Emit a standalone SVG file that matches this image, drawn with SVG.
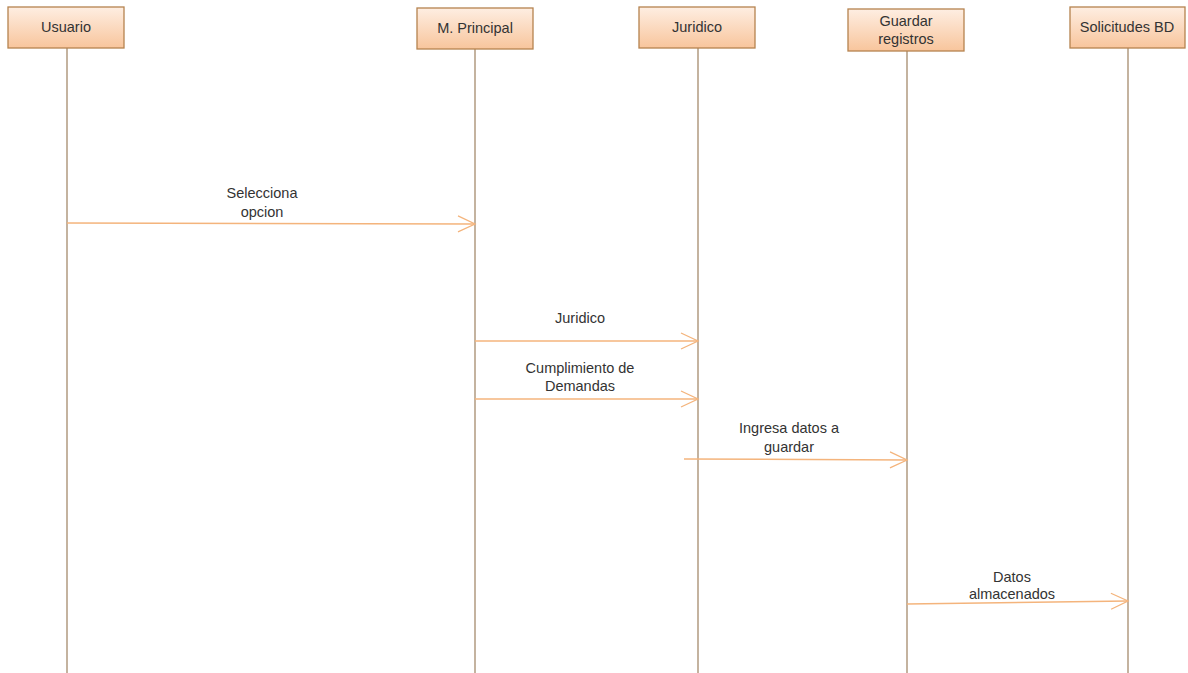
<svg xmlns="http://www.w3.org/2000/svg" width="1188" height="673" viewBox="0 0 1188 673">
<defs>
<linearGradient id="g" x1="0" y1="0" x2="0" y2="1">
<stop offset="0" stop-color="#feeee2"/>
<stop offset="1" stop-color="#f8c59c"/>
</linearGradient>
<marker id="ah" markerWidth="20" markerHeight="18" refX="18" refY="9" orient="auto" markerUnits="userSpaceOnUse">
<path d="M1,1 L18,9 L1,17" fill="none" stroke="#f4b47c" stroke-width="1.3"/>
</marker>
</defs>
<style>
.box{fill:url(#g);stroke:#b5834f;stroke-width:1.3}
.life{stroke:#a58a6c;stroke-width:1.3;fill:none}
.msg{stroke:#f4b47c;stroke-width:1.5;fill:none;marker-end:url(#ah)}
text{font-family:"Liberation Sans",Arial,sans-serif;font-size:14.5px;fill:#333;text-anchor:middle}
</style>
<rect width="1188" height="673" fill="#fff"/>
<g id="usuario">
<line class="life" x1="67" y1="48" x2="67" y2="673"/>
<rect class="box" x="8" y="7" width="116" height="41"/>
<text x="66" y="32">Usuario</text>
</g>
<g id="principal">
<line class="life" x1="475" y1="49" x2="475" y2="673"/>
<rect class="box" x="417" y="8" width="116" height="41"/>
<text x="475" y="33">M. Principal</text>
</g>
<g id="juridico">
<line class="life" x1="698" y1="48" x2="698" y2="673"/>
<rect class="box" x="639" y="7" width="116" height="41"/>
<text x="697" y="32">Juridico</text>
</g>
<g id="guardar">
<line class="life" x1="907" y1="51" x2="907" y2="673"/>
<rect class="box" x="848" y="9" width="116" height="42"/>
<text x="906" y="26">Guardar</text>
<text x="906" y="44">registros</text>
</g>
<g id="solicitudes">
<line class="life" x1="1128" y1="48" x2="1128" y2="673"/>
<rect class="box" x="1070" y="7" width="115" height="41"/>
<text x="1127" y="32">Solicitudes BD</text>
</g>
<g id="connectors">
<line class="msg" x1="67" y1="223" x2="475" y2="224"/>
<text x="262" y="198">Selecciona</text>
<text x="262" y="217">opcion</text>
<line class="msg" x1="475" y1="341" x2="698" y2="341"/>
<text x="580" y="323">Juridico</text>
<line class="msg" x1="475" y1="399" x2="698" y2="399"/>
<text x="580" y="373">Cumplimiento de</text>
<text x="580" y="391">Demandas</text>
<line class="msg" x1="684" y1="459" x2="907" y2="460"/>
<text x="789" y="433">Ingresa datos a</text>
<text x="789" y="452">guardar</text>
<line class="msg" x1="907" y1="604" x2="1128" y2="601"/>
<text x="1012" y="582">Datos</text>
<text x="1012" y="599">almacenados</text>
</g>
</svg>
